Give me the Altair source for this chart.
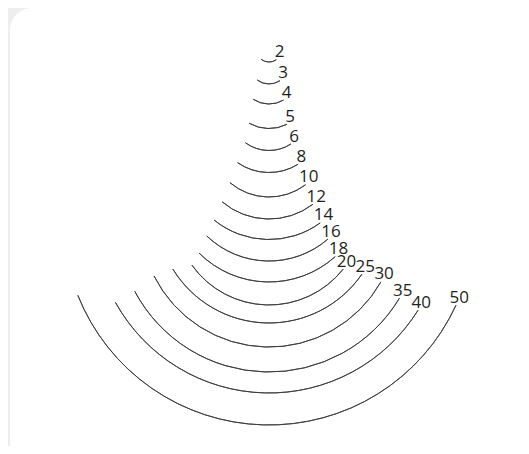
import altair as alt
import numpy as np
import pandas as pd

# Gouge widths (labels), arc radii (mm) and depth of each arc's lowest point (mm)
widths = [2, 3, 4, 5, 6, 8, 10, 12, 14, 16, 18, 20, 25, 30, 35, 40, 50]
radii = [1.7, 2.6, 3.8, 5.3, 5.3, 7.3, 8.0, 9.6, 11.5, 11.9, 13.1, 12.5, 14.9, 17.0, 20.1, 23.2, 27.2]
bottoms = [7.14, 10.04, 12.69, 15.93, 18.83, 21.74, 24.98, 27.89, 30.6, 33.44,
           36.21, 39.25, 41.63, 44.81, 48.11, 50.88, 55.11]
TILT_DEG = 1.5

W, H = 513, 438
X_DOMAIN = [-34.5, 33.3]
K = W / (X_DOMAIN[1] - X_DOMAIN[0])
Y_DOMAIN = [0, H / K]

df = pd.DataFrame({"width": widths, "radius": radii, "bottom": bottoms})
alpha = np.arcsin(df["width"] / 2 / df["radius"])
tilt = np.radians(TILT_DEG)
df["cx"] = 0.0
df["cy"] = df["bottom"] - df["radius"]
df["t1"] = np.pi - alpha + tilt
df["t2"] = np.pi + alpha + tilt
df["ex"] = df["cx"] + df["radius"] * np.sin(df["t1"])
df["ey"] = df["cy"] - df["radius"] * np.cos(df["t1"])
df["label"] = df["width"].astype(str)

xs = alt.Scale(domain=X_DOMAIN, nice=False, zero=False)
ys = alt.Scale(domain=Y_DOMAIN, reverse=True, nice=False, zero=False)
rs = alt.Scale(type="linear", domain=[0, X_DOMAIN[1] - X_DOMAIN[0]], range=[0, W], zero=True, nice=False)

card = alt.Chart(pd.DataFrame({"a": [0]})).mark_rect(color="white", cornerRadius=22).encode(
    x=alt.value(2), x2=alt.value(W + 40), y=alt.value(0), y2=alt.value(H + 40)
)

arcs = alt.Chart(df).mark_arc(fillOpacity=0, stroke="#3a3a3a", strokeWidth=0.9).encode(
    x=alt.X("cx:Q", scale=xs, axis=None),
    y=alt.Y("cy:Q", scale=ys, axis=None),
    theta=alt.Theta("t1:Q", scale=None, stack=None),
    theta2="t2:Q",
    radius=alt.Radius("radius:Q", scale=rs),
    radius2="radius:Q",
)

labels = alt.Chart(df).mark_text(
    align="center", baseline="alphabetic", dx=3.2, dy=-2.5,
    font="Open Sans", fontSize=17, color="#231f20"
).encode(
    x=alt.X("ex:Q", scale=xs, axis=None),
    y=alt.Y("ey:Q", scale=ys, axis=None),
    text="label:N",
)

chart = alt.layer(card, arcs, labels).properties(
    width=W, height=H, padding=0, autosize="none", background="#eeeeee"
).configure_view(strokeWidth=0)

chart.save("out.html", embed_options={"renderer": "svg", "actions": False})
